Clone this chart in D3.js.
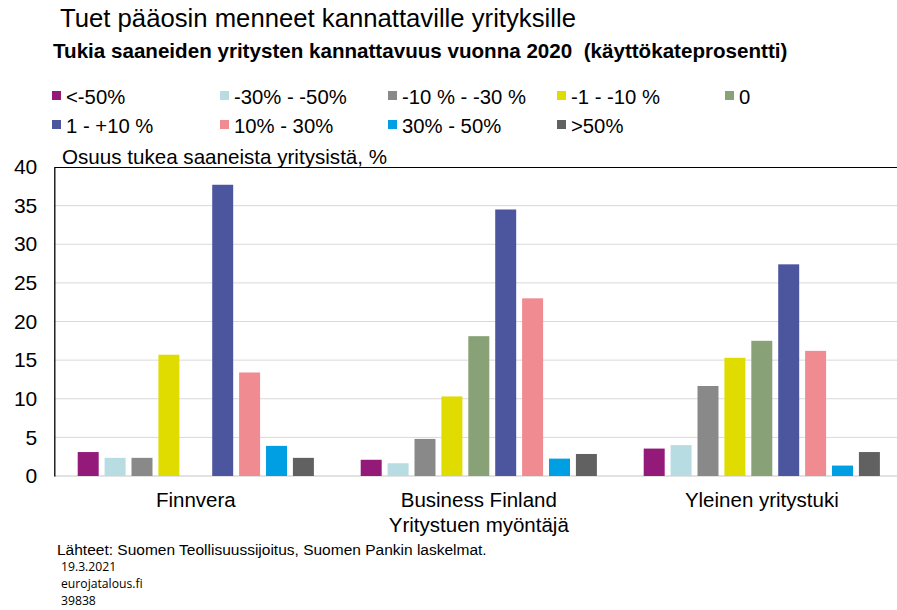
<!DOCTYPE html>
<html><head><meta charset="utf-8">
<script src="https://cdn.jsdelivr.net/npm/d3@7"></script>
<style>body{margin:0;background:#fff}svg{display:block}text{font-family:"Liberation Sans",Arial,sans-serif;fill:#000}</style>
</head><body>
<svg id="c" width="897" height="610"></svg>
<script>
const categories = ["Finnvera", "Business Finland", "Yleinen yritystuki"];
const seriesNames = ["<-50%", "-30% - -50%", "-10 % - -30 %", "-1 - -10 %", "0", "1 - +10 %", "10% - 30%", "30% - 50%", ">50%"];
const seriesColors = ["#941a7a", "#b7dde2", "#898989", "#e0dc00", "#88a176", "#4b569f", "#f08b92", "#009fe3", "#616161"];
const valuesFinnvera = [3.1, 2.35, 2.35, 15.7, 0, 37.7, 13.4, 3.9, 2.35];
const valuesBusinessFinland = [2.1, 1.65, 4.8, 10.3, 18.1, 34.5, 23.0, 2.25, 2.85];
const valuesYleinen = [3.55, 4.0, 11.65, 15.3, 17.5, 27.4, 16.2, 1.35, 3.1];
const yTicks = [0, 5, 10, 15, 20, 25, 30, 35, 40];

const values = [valuesFinnvera, valuesBusinessFinland, valuesYleinen];
const svg = d3.select("#c");
const L = 54.3, R = 903.3, W = 897, T = 167, B = 476;

const x0 = d3.scaleBand().domain(categories).range([L, R]).paddingInner(0).paddingOuter(0);
const x1 = d3.scaleBand().domain(seriesNames).range([0, x0.bandwidth()]).paddingInner(0.22).paddingOuter(0.87);
const y = d3.scaleLinear().domain([0, 40]).range([B, T]);

// gridlines
svg.append("g").selectAll("line").data(yTicks.filter(d => d > 0 && d < 40)).join("line")
  .attr("x1", L).attr("x2", W).attr("y1", d => y(d)).attr("y2", d => y(d))
  .attr("stroke", "#d9d9d9").attr("stroke-width", 1);
// baseline
svg.append("line").attr("x1", L).attr("x2", W).attr("y1", y(0)).attr("y2", y(0)).attr("stroke", "#d9d9d9").attr("stroke-width", 1.5);

// bars
const g = svg.append("g");
categories.forEach((c, ci) => {
  g.append("g").attr("transform", `translate(${x0(c)},0)`)
    .selectAll("rect").data(values[ci].map((v, i) => ({v, i}))).join("rect")
    .attr("x", d => x1(seriesNames[d.i])).attr("width", x1.bandwidth())
    .attr("y", d => y(d.v)).attr("height", d => y(0) - y(d.v))
    .attr("fill", d => seriesColors[d.i]);
});

// top border and left axis
svg.append("line").attr("x1", L).attr("x2", W).attr("y1", T + 0.5).attr("y2", T + 0.5).attr("stroke", "#000").attr("stroke-width", 1.2);
const yAxis = d3.axisLeft(y).tickValues(yTicks).tickSize(0).tickPadding(17);
const ya = svg.append("g").attr("transform", `translate(${L},0)`).call(yAxis);
ya.select(".domain").attr("stroke", "#000").attr("stroke-width", 1.3);
ya.selectAll("text").style("font-size", "21px").attr("fill", "#000").style("font-family", '"Liberation Sans",Arial,sans-serif');

// x labels
const xAxis = d3.axisBottom(x0).tickSize(0).tickPadding(16);
const xa = svg.append("g").attr("transform", `translate(0,${B})`).call(xAxis);
xa.select(".domain").remove();
xa.selectAll("text").style("font-size", "20.5px").attr("fill", "#000").style("font-family", '"Liberation Sans",Arial,sans-serif');

svg.append("text").attr("x", x0("Business Finland") + x0.bandwidth() / 2).attr("y", 532).attr("text-anchor", "middle").style("font-size", "20.5px").text("Yritystuen myöntäjä");

// titles
svg.append("text").attr("x", 60).attr("y", 27).style("font-size", "25.7px").text("Tuet pääosin menneet kannattaville yrityksille");
svg.append("text").attr("x", 53).attr("y", 58).style("font-size", "20.6px").style("font-weight", "bold").style("white-space", "pre").text("Tukia saaneiden yritysten kannattavuus vuonna 2020  (käyttökateprosentti)");
svg.append("text").attr("x", 62).attr("y", 164).style("font-size", "20.6px").text("Osuus tukea saaneista yritysistä, %");

// legend
const colX = [52, 220, 388, 557, 725];
const rowY = [96, 125];
const lg = svg.append("g").selectAll("g").data(seriesNames).join("g")
  .attr("transform", (d, i) => `translate(${colX[i % 5]},${rowY[Math.floor(i / 5)]})`);
lg.append("rect").attr("x", 0).attr("y", -5).attr("width", 9).attr("height", 9).attr("fill", (d, i) => seriesColors[i]);
lg.append("text").attr("x", 14).attr("y", 7.5).style("font-size", "20.3px").text(d => d);

// footer
svg.append("text").attr("x", 57).attr("y", 555).style("font-size", "15.5px").text("Lähteet: Suomen Teollisuussijoitus, Suomen Pankin laskelmat.");
const foot = ["19.3.2021", "eurojatalous.fi", "39838"];
const footY = [571, 588, 605];
svg.append("g").selectAll("text").data(foot).join("text")
  .attr("x", 61).attr("y", (d, i) => footY[i]).style("font-size", "12.2px").style("font-family", '"Open Sans",sans-serif').text(d => d);
</script>
</body></html>
